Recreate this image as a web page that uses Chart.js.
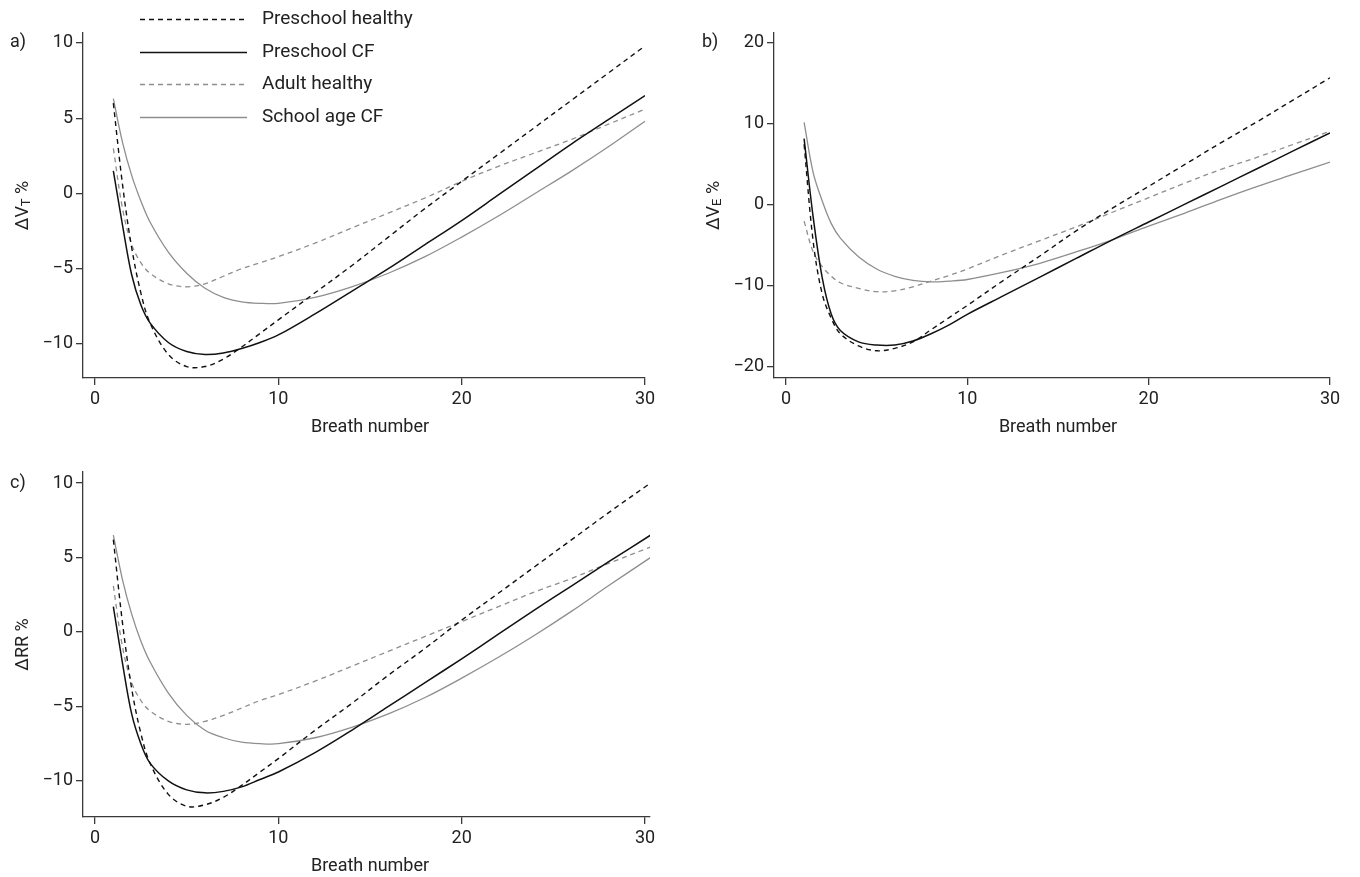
<!DOCTYPE html>
<html>
<head>
<meta charset="utf-8">
<script src="https://cdn.jsdelivr.net/npm/chart.js@4.4.1/dist/chart.umd.min.js"></script>
<style>
html, body { margin: 0; padding: 0; background: #fff; }
#wrap { position: relative; width: 1360px; height: 877px; }
canvas { position: absolute; }
</style>
</head>
<body>
<div id="wrap">
  <canvas id="chartA" width="690" height="440" style="left:0;top:0"></canvas>
  <canvas id="chartB" width="670" height="440" style="left:690px;top:0"></canvas>
  <canvas id="chartC" width="690" height="437" style="left:0;top:440px"></canvas>
</div>
<script>
const breaths = [1, 1.5, 2, 2.5, 3, 4, 5, 6, 7, 8, 9, 10, 12, 14, 16, 18, 20, 22, 24, 26, 28, 30];
const breathsC = [1, 1.5, 2, 2.5, 3, 4, 5, 6, 7, 8, 9, 10, 12, 14, 16, 18, 20, 22, 24, 26, 28, 30.3];

const seriesNames = ['Preschool healthy', 'Preschool CF', 'Adult healthy', 'School age CF'];

// a) tidal volume
const vtPreschoolHealthy = [6.0, 0.6, -3.6, -6.6, -8.6, -10.7, -11.5, -11.5, -11.0, -10.2, -9.3, -8.4, -6.6, -4.8, -2.9, -1.0, 0.8, 2.6, 4.4, 6.2, 8.0, 9.8];
const vtPreschoolCF = [1.5, -2.1, -5.4, -7.4, -8.6, -9.9, -10.5, -10.7, -10.6, -10.3, -9.9, -9.4, -8.0, -6.5, -5.0, -3.4, -1.8, -0.1, 1.6, 3.3, 4.9, 6.5];
const vtAdultHealthy = [3.0, -1.0, -3.4, -4.6, -5.3, -6.0, -6.2, -6.0, -5.5, -5.0, -4.6, -4.2, -3.3, -2.3, -1.3, -0.3, 0.8, 1.8, 2.7, 3.6, 4.6, 5.6];
const vtSchoolCF = [6.3, 3.4, 1.2, -0.5, -1.9, -3.9, -5.3, -6.3, -6.9, -7.2, -7.3, -7.3, -6.9, -6.2, -5.3, -4.2, -2.9, -1.5, 0.0, 1.5, 3.1, 4.8];

// b) minute ventilation
const vePreschoolHealthy = [7.5, -4.5, -11.0, -14.0, -15.9, -17.4, -18.0, -17.7, -16.9, -15.4, -13.9, -12.4, -9.3, -6.3, -3.2, -0.4, 2.3, 5.0, 7.7, 10.3, 13.0, 15.7];
const vePreschoolCF = [8.2, -1.5, -9.0, -13.5, -15.5, -16.9, -17.3, -17.3, -16.8, -15.9, -14.8, -13.5, -11.2, -8.9, -6.6, -4.3, -2.1, 0.1, 2.3, 4.5, 6.7, 8.9];
const veAdultHealthy = [-2.0, -5.8, -7.6, -8.8, -9.6, -10.3, -10.7, -10.6, -10.1, -9.4, -8.7, -7.9, -6.1, -4.4, -2.7, -0.9, 0.9, 2.7, 4.4, 5.9, 7.5, 9.1];
const veSchoolCF = [10.2, 4.0, 0.5, -2.3, -4.1, -6.4, -7.9, -8.8, -9.3, -9.5, -9.4, -9.2, -8.3, -7.2, -5.8, -4.3, -2.6, -1.0, 0.7, 2.3, 3.8, 5.3];

// c) respiratory rate
const rrPreschoolHealthy = [6.2, 0.6, -3.8, -6.8, -8.8, -10.9, -11.7, -11.6, -11.1, -10.3, -9.4, -8.5, -6.6, -4.8, -2.9, -1.1, 0.8, 2.6, 4.4, 6.2, 8.0, 10.0];
const rrPreschoolCF = [1.7, -2.1, -5.5, -7.5, -8.8, -10.0, -10.6, -10.8, -10.7, -10.4, -9.9, -9.4, -8.1, -6.6, -5.0, -3.4, -1.8, -0.15, 1.5, 3.1, 4.7, 6.5];
const rrAdultHealthy = [3.1, -1.0, -3.4, -4.6, -5.3, -6.0, -6.2, -6.0, -5.6, -5.1, -4.6, -4.2, -3.3, -2.3, -1.3, -0.3, 0.7, 1.7, 2.7, 3.6, 4.6, 5.7];
const rrSchoolCF = [6.5, 3.5, 1.2, -0.6, -2.0, -4.1, -5.6, -6.6, -7.1, -7.4, -7.5, -7.5, -7.1, -6.4, -5.5, -4.4, -3.1, -1.7, -0.2, 1.4, 3.1, 5.0];

// tick labels
const xTickValues = [0, 10, 20, 30];
const yTicksSmall = [-10, -5, 0, 5, 10];
const yTicksVE = [-20, -10, 0, 10, 20];

const FONT = 'Roboto, "Liberation Sans", sans-serif';
const INK = '#222';
const AXIS = '#3a3a3a';
const GREY = '#8e8e8e';

const lineStyles = [
    { borderColor: '#111', borderWidth: 1.4, borderDash: [5, 4] },
    { borderColor: '#111', borderWidth: 1.5, borderDash: [] },
    { borderColor: GREY, borderWidth: 1.3, borderDash: [5, 4] },
    { borderColor: GREY, borderWidth: 1.3, borderDash: [] }
];

function toPoints(xs, ys) {
    return xs.map((x, i) => ({ x, y: ys[i] }));
}

function minusFmt(v) {
    return v < 0 ? '\u2212' + Math.abs(v) : String(v);
}

// panel letter, axis titles and (optionally) the legend
const decor = {
    id: 'decor',
    afterDraw(chart, args, opts) {
        const { ctx, chartArea, scales } = chart;
        ctx.save();
        ctx.fillStyle = INK;

        // panel letter
        ctx.font = `18px ${FONT}`;
        ctx.textAlign = 'left';
        ctx.textBaseline = 'middle';
        ctx.fillText(opts.letter, opts.letterX, scales.y.getPixelForValue(opts.topTick));

        // x title
        const xc = (scales.x.getPixelForValue(0) + scales.x.getPixelForValue(30)) / 2;
        ctx.textAlign = 'center';
        ctx.fillText('Breath number', xc, chartArea.bottom + 49);

        // y title, rotated, with small subscript part
        const cy = (chartArea.top + chartArea.bottom) / 2;
        ctx.translate(opts.yTitleX, cy);
        ctx.rotate(-Math.PI / 2);
        ctx.textAlign = 'left';
        ctx.textBaseline = 'alphabetic';
        const parts = opts.yTitle;
        const sizes = [18, 13, 18];
        let total = 0;
        const widths = parts.map((p, i) => {
            ctx.font = `${sizes[i]}px ${FONT}`;
            const w = ctx.measureText(p).width;
            total += w;
            return w;
        });
        let px = -total / 2;
        parts.forEach((p, i) => {
            ctx.font = `${sizes[i]}px ${FONT}`;
            ctx.fillText(p, px, i === 1 ? 8 : 6);
            px += widths[i];
        });
        ctx.restore();

        if (opts.legend) {
            ctx.save();
            ctx.font = `19px ${FONT}`;
            ctx.fillStyle = INK;
            ctx.textAlign = 'left';
            ctx.textBaseline = 'middle';
            const rows = [19, 52, 84, 117];
            chart.data.datasets.forEach((ds, i) => {
                const y = rows[i];
                ctx.strokeStyle = ds.borderColor;
                ctx.lineWidth = ds.borderWidth;
                ctx.setLineDash(ds.borderDash);
                ctx.beginPath();
                ctx.moveTo(140, y + 0.5);
                ctx.lineTo(247, y + 0.5);
                ctx.stroke();
                ctx.fillText(ds.label, 262, y);
            });
            ctx.restore();
        }
    }
};

function makePanel(id, xs, series, cfg) {
    const datasets = series.map((ys, i) => Object.assign({
        label: seriesNames[i],
        data: toPoints(xs, ys),
        pointRadius: 0,
        fill: false,
        tension: 0.35
    }, lineStyles[i]));

    return new Chart(document.getElementById(id), {
        type: 'line',
        data: { datasets },
        plugins: [decor],
        options: {
            responsive: false,
            animation: false,
            devicePixelRatio: 1,
            layout: { padding: { left: 0, top: cfg.top, right: cfg.right, bottom: 0 } },
            plugins: {
                legend: { display: false },
                tooltip: { enabled: false },
                decor: cfg.decor
            },
            scales: {
                x: {
                    type: 'linear',
                    min: cfg.xMin,
                    max: cfg.xMax,
                    afterBuildTicks: s => { s.ticks = xTickValues.map(v => ({ value: v })); },
                    afterFit: s => { s.height = cfg.xHeight; },
                    border: { display: true, color: AXIS, width: 1.3 },
                    grid: { drawOnChartArea: false, drawTicks: true, tickLength: 7, color: AXIS, lineWidth: 1.3 },
                    ticks: { autoSkip: false, maxRotation: 0, padding: 4, color: INK, font: { family: FONT, size: 18 } }
                },
                y: {
                    type: 'linear',
                    min: cfg.yMin,
                    max: cfg.yMax,
                    afterBuildTicks: s => { s.ticks = cfg.yTicks.map(v => ({ value: v })); },
                    afterFit: s => { s.width = cfg.yWidth; },
                    border: { display: true, color: AXIS, width: 1.3 },
                    grid: { drawOnChartArea: false, drawTicks: true, tickLength: 7, color: AXIS, lineWidth: 1.3 },
                    ticks: { autoSkip: false, padding: 3, color: INK, font: { family: FONT, size: 18 }, callback: v => minusFmt(v) }
                }
            }
        }
    });
}

makePanel('chartA', breaths, [vtPreschoolHealthy, vtPreschoolCF, vtAdultHealthy, vtSchoolCF], {
    top: 33, right: 45, xHeight: 62, yWidth: 83,
    xMin: -0.655, xMax: 30, yMin: -12.26, yMax: 10.66, yTicks: yTicksSmall,
    decor: { letter: 'a)', letterX: 10, topTick: 10, yTitleX: 22, yTitle: ['\u0394V', 'T', ' %'], legend: true }
});

makePanel('chartB', breaths, [vePreschoolHealthy, vePreschoolCF, veAdultHealthy, veSchoolCF], {
    top: 33, right: 30, xHeight: 62, yWidth: 84,
    xMin: -0.66, xMax: 30, yMin: -21.36, yMax: 21.23, yTicks: yTicksVE,
    decor: { letter: 'b)', letterX: 12, topTick: 20, yTitleX: 23, yTitle: ['\u0394V', 'E', ' %'], legend: false }
});

makePanel('chartC', breathsC, [rrPreschoolHealthy, rrPreschoolCF, rrAdultHealthy, rrSchoolCF], {
    top: 32, right: 40, xHeight: 60, yWidth: 83,
    xMin: -0.655, xMax: 30.27, yMin: -12.42, yMax: 10.74, yTicks: yTicksSmall,
    decor: { letter: 'c)', letterX: 10, topTick: 10, yTitleX: 22, yTitle: ['\u0394RR %', '', ''], legend: false }
});
</script>
</body>
</html>
